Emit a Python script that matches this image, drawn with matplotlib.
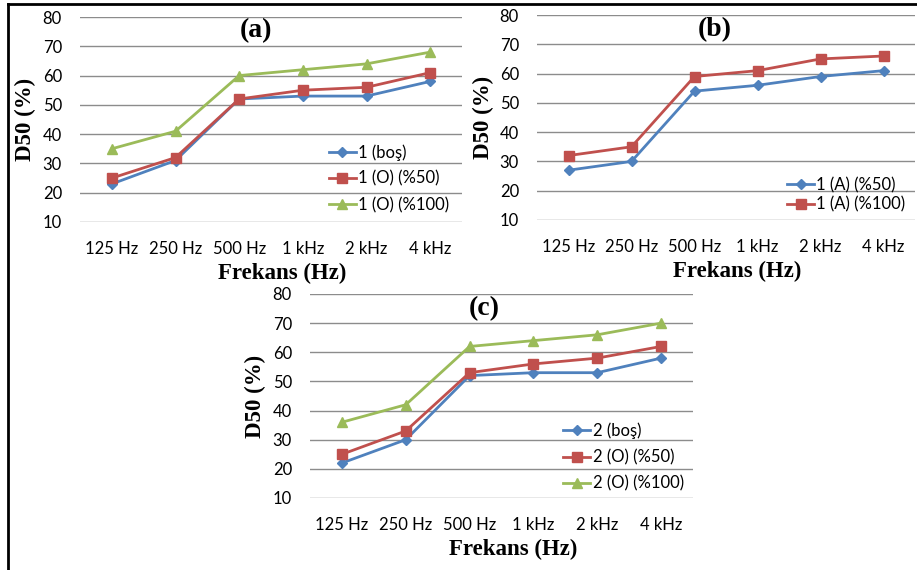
import matplotlib.pyplot as plt
from matplotlib.lines import Line2D

freqs = ["125 Hz", "250 Hz", "500 Hz", "1 kHz", "2 kHz", "4 kHz"]

# (a)
a_bos = [23, 31, 52, 53, 53, 58]
a_o50 = [25, 32, 52, 55, 56, 61]
a_o100 = [35, 41, 60, 62, 64, 68]
# (b)
b_a50 = [27, 30, 54, 56, 59, 61]
b_a100 = [32, 35, 59, 61, 65, 66]
# (c)
c_bos = [22, 30, 52, 53, 53, 58]
c_o50 = [25, 33, 53, 56, 58, 62]
c_o100 = [36, 42, 62, 64, 66, 70]

blue = "#4F81BD"
red = "#C0504D"
green = "#9BBB59"
tick_font = "Lato"
serif = "Liberation Serif"

W, H = 917, 570
fig = plt.figure(figsize=(W / 100, H / 100), dpi=100)


def px_axes(x0, x1, ytop, ybot):
    return fig.add_axes([x0 / W, 1 - ybot / H, (x1 - x0) / W, (ybot - ytop) / H])


def style(ax, tag, tx, ty):
    ax.set_xlim(-0.5, 5.5)
    ax.set_ylim(10, 80)
    ax.set_yticks(range(10, 81, 10))
    ax.set_xticks(range(6))
    ax.set_xticklabels(freqs)
    for s in ax.spines.values():
        s.set_visible(False)
    ax.grid(axis="y", color="#8c8c8c", linewidth=1.0)
    ax.set_axisbelow(True)
    ax.tick_params(length=0, labelsize=12)
    ax.tick_params(axis="x", pad=14)
    ax.tick_params(axis="y", pad=13)
    for lab in ax.get_xticklabels() + ax.get_yticklabels():
        lab.set_fontfamily(tick_font)
    ax.set_xlabel("Frekans (Hz)", fontfamily=serif, fontweight="bold", fontsize=16.5, va="center")
    ax.xaxis.set_label_coords(0.53, -0.25)
    ax.set_ylabel("D50 (%)", fontfamily=serif, fontweight="bold", fontsize=16.5, va="center")
    ax.yaxis.set_label_coords(-0.142, 0.5)
    ax.text(tx, ty, tag, transform=ax.transAxes, ha="center", va="center",
            fontfamily=serif, fontweight="bold", fontsize=20)


def leg(ax, x, y, spacing):
    l = ax.legend(loc="upper left", bbox_to_anchor=(x, y), frameon=False, borderpad=0,
                  handlelength=1.6, handletextpad=0.15, labelspacing=spacing,
                  prop={"family": tick_font, "size": 12})
    return l


x = list(range(6))
kw = dict(linewidth=2)

ax1 = px_axes(80, 462, 17, 222)
ax1.plot(x, a_bos, color=blue, marker="D", markersize=5, label="1 (boş)", **kw)
ax1.plot(x, a_o50, color=red, marker="s", markersize=7, label="1 (O) (%50)", **kw)
ax1.plot(x, a_o100, color=green, marker="^", markersize=7, label="1 (O) (%100)", **kw)
style(ax1, "(a)", 0.46, 0.935)
leg(ax1, 0.63, 0.42, 0.6)

ax2 = px_axes(537, 915, 15, 220)
ax2.plot(x, b_a50, color=blue, marker="D", markersize=5, label="1 (A) (%50)", **kw)
ax2.plot(x, b_a100, color=red, marker="s", markersize=7, label="1 (A) (%100)", **kw)
style(ax2, "(b)", 0.47, 0.93)
leg(ax2, 0.64, 0.25, 0.2)

ax3 = px_axes(310, 693, 294, 498)
ax3.plot(x, c_bos, color=blue, marker="D", markersize=5, label="2 (boş)", **kw)
ax3.plot(x, c_o50, color=red, marker="s", markersize=7, label="2 (O) (%50)", **kw)
ax3.plot(x, c_o100, color=green, marker="^", markersize=7, label="2 (O) (%100)", **kw)
style(ax3, "(c)", 0.455, 0.93)
leg(ax3, 0.64, 0.41, 0.6)

# outer frame (top and left only)
fig.add_artist(Line2D([8 / W, 1], [1 - 4 / H, 1 - 4 / H], color="black", linewidth=2))
fig.add_artist(Line2D([8 / W, 8 / W], [1 - 4 / H, 0], color="black", linewidth=2))

fig.savefig("out.png", dpi=100)
